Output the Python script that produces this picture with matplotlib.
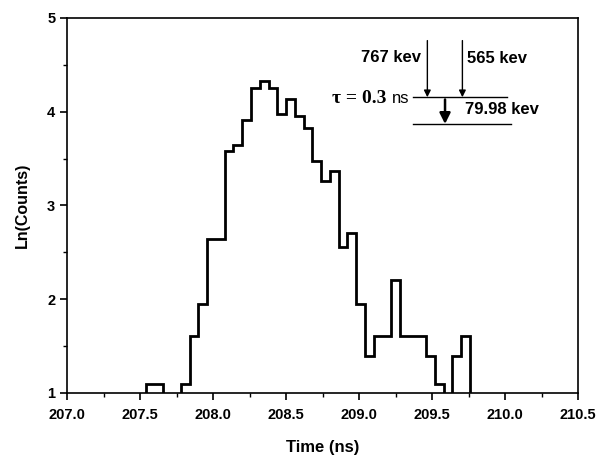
import matplotlib
matplotlib.use("Agg")
import matplotlib.pyplot as plt
from matplotlib.ticker import MultipleLocator, FormatStrFormatter
import numpy as np

# histogram: bins of 0.06 ns starting at 207.54
bin_start = 207.54
bin_width = 0.06
ln_counts = [1.10, 1.10, 0.69, 0.69, 1.10, 1.61, 1.95, 2.64, 2.64, 3.58,
             3.64, 3.91, 4.25, 4.33, 4.25, 3.97, 4.13, 3.95, 3.83, 3.47,
             3.26, 3.37, 2.56, 2.71, 1.95, 1.39, 1.61, 1.61, 2.20, 1.61,
             1.61, 1.61, 1.39, 1.10, 0.69, 1.39, 1.61]

x_ticks = [207.0, 207.5, 208.0, 208.5, 209.0, 209.5, 210.0, 210.5]
y_ticks = [1, 2, 3, 4, 5]

edges = bin_start + bin_width * np.arange(len(ln_counts) + 1)

plt.rcParams['font.family'] = ['Liberation Sans', 'DejaVu Sans']

fig = plt.figure(figsize=(6.04, 4.59), dpi=100)
ax = fig.add_axes([0.111, 0.144, 0.846, 0.817])

# baseline below the axis so the closing verticals are drawn and clipped
ax.stairs(ln_counts, edges, baseline=0, color='black', linewidth=2.0)

ax.set_xlim(207.0, 210.5)
ax.set_ylim(1, 5)
ax.set_xticks(x_ticks)
ax.set_yticks(y_ticks)
ax.xaxis.set_minor_locator(MultipleLocator(0.25))
ax.yaxis.set_minor_locator(MultipleLocator(0.5))
ax.xaxis.set_major_formatter(FormatStrFormatter('%.1f'))
ax.yaxis.set_major_formatter(FormatStrFormatter('%d'))

for s in ax.spines.values():
    s.set_linewidth(1.2)
ax.tick_params(which='major', direction='out', length=5, width=1.2, labelsize=10.5)
ax.tick_params(which='minor', direction='out', length=3, width=1.0)
ax.tick_params(axis='x', which='major', pad=6)
for lab in ax.get_xticklabels() + ax.get_yticklabels():
    lab.set_fontweight('bold')

ax.set_xlabel('Time (ns)', fontsize=12, fontweight='bold', labelpad=13)
ax.set_ylabel('Ln(Counts)', fontsize=11.5, fontweight='bold', labelpad=12)

# level scheme inset
ax.plot([209.372, 210.012], [4.154, 4.154], color='black', lw=1)
ax.plot([209.372, 210.04], [3.869, 3.869], color='black', lw=1)
for xa in [209.468, 209.708]:
    ax.annotate('', xy=(xa, 4.154), xytext=(xa, 4.758),
                arrowprops=dict(arrowstyle='-|>', lw=1, color='black',
                                mutation_scale=10, shrinkA=0, shrinkB=0))
ax.annotate('', xy=(209.589, 3.869), xytext=(209.589, 4.13),
            arrowprops=dict(arrowstyle='-|>', lw=1.8, color='black',
                            mutation_scale=16, shrinkA=0, shrinkB=0))

ax.text(209.423, 4.58, '767 kev', ha='right', va='center', fontsize=12, fontweight='bold')
ax.text(209.742, 4.57, '565 kev', ha='left', va='center', fontsize=12, fontweight='bold')
ax.text(209.726, 4.026, '79.98 kev', ha='left', va='center', fontsize=12, fontweight='bold')
ax.text(209.19, 4.14, 'τ = 0.3', ha='right', va='center', fontsize=14,
        fontweight='bold', family=['Liberation Serif', 'DejaVu Serif'])
ax.text(209.224, 4.14, 'ns', ha='left', va='center', fontsize=12)

fig.savefig('out.png', dpi=100)
